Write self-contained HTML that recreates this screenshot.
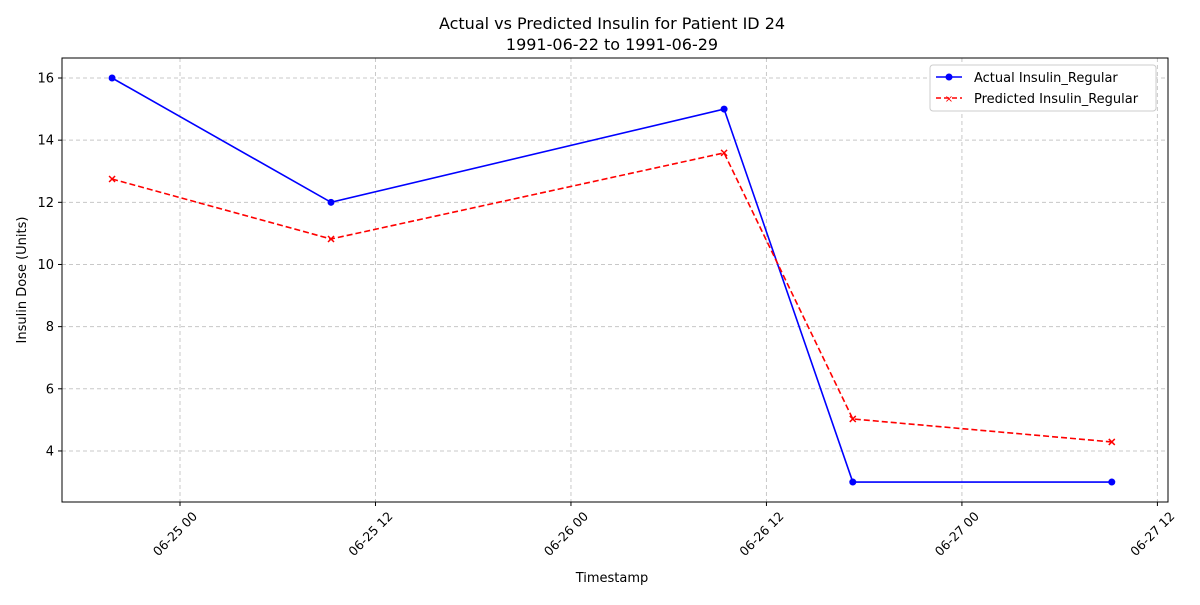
<!DOCTYPE html>
<html><head><meta charset="utf-8"><style>
body{margin:0;background:#fff;font-family:"Liberation Sans","DejaVu Sans",sans-serif;}
svg text{font-family:"DejaVu Sans","Liberation Sans",sans-serif;}
</style></head><body>
<svg id="chart" width="1200" height="600" xmlns="http://www.w3.org/2000/svg">
<rect width="1200" height="600" fill="#fff"/>
<text x="612" y="29" font-size="16" text-anchor="middle">Actual vs Predicted Insulin for Patient ID 24</text>
<text x="612" y="50" font-size="16" text-anchor="middle">1991-06-22 to 1991-06-29</text>
<g id="grid"></g><g id="axes"></g><g id="series"></g>
<rect x="62" y="58" width="1106" height="444" fill="none" stroke="#000" stroke-width="1"/>
<text x="612" y="582" font-size="13" text-anchor="middle">Timestamp</text>
<text transform="translate(26,280) rotate(-90)" font-size="13" text-anchor="middle">Insulin Dose (Units)</text>
<g>
<rect x="930" y="65" width="226" height="46" fill="#fff" stroke="#ccc" rx="3"/>
<line x1="936" y1="77" x2="962" y2="77" stroke="blue" stroke-width="1.6"/><circle cx="949" cy="77" r="3.5" fill="blue"/>
<text x="974" y="82" font-size="13">Actual Insulin_Regular</text>
<line x1="936" y1="98" x2="962" y2="98" stroke="red" stroke-width="1.6" stroke-dasharray="5,3"/>
<text x="949" y="102" font-size="10" fill="red" text-anchor="middle">×</text>
<text x="974" y="103" font-size="13">Predicted Insulin_Regular</text>
</g>
</svg>
<script>
const hours=[-4.17,9.27,33.4,41.3,57.2];
const actual=[16,12,15,3,3];
const predicted=[12.75,10.82,13.59,5.03,4.29];
const xTickHours=[0,12,24,36,48,60];
const xTickLabels=["06-25 00","06-25 12","06-26 00","06-26 12","06-27 00","06-27 12"];
const yTicks=[4,6,8,10,12,14,16];
const NS="http://www.w3.org/2000/svg";
const X=h=>180+h*16.29;
const Y=v=>78+(16-v)*31.08;
function mk(t,a,p){const e=document.createElementNS(NS,t);for(const k in a)e.setAttribute(k,a[k]);document.getElementById(p).appendChild(e);return e;}
xTickHours.forEach((h,i)=>{const x=X(h);
let g=mk('line',{x1:x,x2:x,y1:58,y2:502,stroke:'#c8c8c8','stroke-dasharray':'4,3'},'grid');

mk('line',{x1:x,x2:x,y1:502,y2:506,stroke:'#000'},'axes');
let t=mk('text',{x:0,y:0,'font-size':12.5,'text-anchor':'end',transform:`translate(${x+18},${517}) rotate(-45)`},'axes');
t.textContent=xTickLabels[i];});
yTicks.forEach(v=>{const y=Y(v);
let g=mk('line',{x1:62,x2:1168,y1:y,y2:y,stroke:'#c8c8c8','stroke-dasharray':'4,3'},'grid');

mk('line',{x1:58,x2:62,y1:y,y2:y,stroke:'#000'},'axes');
let t=mk('text',{x:54,y:y+4.5,'font-size':13,'text-anchor':'end'},'axes');
t.textContent=v;});
let pa=hours.map((h,i)=>X(h)+','+Y(actual[i])).join(' ');
let l1=mk('polyline',{points:pa,fill:'none',stroke:'blue','stroke-width':1.6},'series');

let pp=hours.map((h,i)=>X(h)+','+Y(predicted[i])).join(' ');
let l2=mk('polyline',{points:pp,fill:'none',stroke:'red','stroke-width':1.6,'stroke-dasharray':'6,3'},'series');

hours.forEach((h,i)=>{
let c=mk('circle',{cx:X(h),cy:Y(actual[i]),r:3.5,fill:'blue'},'series');

const x=X(h),y=Y(predicted[i]);
let m=mk('path',{d:`M${x-3},${y-3}L${x+3},${y+3}M${x-3},${y+3}L${x+3},${y-3}`,stroke:'red','stroke-width':1.5},'series');
});
</script>
</body></html>
